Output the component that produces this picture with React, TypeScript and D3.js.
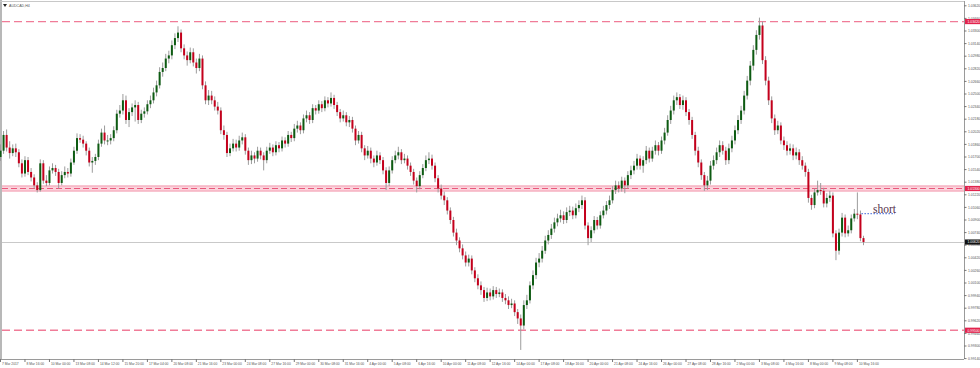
import * as d3 from "d3";

// AUDCAD H4, 7 Mar 2017 - 11 May 2017 (open of each bar = previous close)
const firstOpen = 1.017;

const closes = [
	1.0178, 1.0198, 1.0182, 1.0175, 1.0181, 1.0176, 1.0162, 1.0149, 1.0166, 1.0151,
	1.0144, 1.0134, 1.0128, 1.0162, 1.014, 1.0137, 1.0153, 1.0156, 1.0151, 1.0137,
	1.0147, 1.0151, 1.0149, 1.0163, 1.0178, 1.0194, 1.0192, 1.0187, 1.0178, 1.0163,
	1.0165, 1.017, 1.0187, 1.0201, 1.0191, 1.0191, 1.0194, 1.0204, 1.0225, 1.0229,
	1.0242, 1.0217, 1.0227, 1.0233, 1.0236, 1.0217, 1.0225, 1.0228, 1.0237, 1.0242,
	1.0252, 1.0261, 1.0278, 1.0283, 1.0295, 1.0299, 1.0312, 1.0321, 1.0328, 1.0308,
	1.0299, 1.0293, 1.0303, 1.029, 1.0283, 1.0295, 1.0261, 1.0242, 1.0248, 1.0242,
	1.0234, 1.0229, 1.0204, 1.0198, 1.0175, 1.0181, 1.0187, 1.0182, 1.0191, 1.0195,
	1.0178, 1.0166, 1.0172, 1.0168, 1.0178, 1.0172, 1.0166, 1.0178, 1.0182, 1.0176,
	1.0185, 1.0181, 1.0191, 1.0187, 1.0198, 1.0194, 1.0206, 1.021, 1.0204, 1.0219,
	1.0223, 1.0217, 1.0232, 1.0229, 1.0237, 1.0232, 1.0242, 1.0238, 1.0245, 1.0236,
	1.0227, 1.0219, 1.0223, 1.0214, 1.0217, 1.0206, 1.0191, 1.0198, 1.0181, 1.0172,
	1.0178, 1.0168, 1.0163, 1.0172, 1.0166, 1.0153, 1.0137, 1.0153, 1.0166, 1.0172,
	1.0176, 1.0166, 1.0168, 1.0159, 1.0151, 1.014, 1.0133, 1.0147, 1.0156, 1.0166,
	1.0168, 1.0159, 1.0143, 1.013, 1.0121, 1.0115, 1.0102, 1.009, 1.0074, 1.0064,
	1.0054, 1.0045, 1.0036, 1.0041, 1.0026, 1.0016, 1.0007, 1.0001, 0.9991, 0.9998,
	0.9993, 1.0001, 0.9996, 0.9998, 0.9991, 0.9988, 0.9982, 0.9984, 0.9973, 0.9965,
	0.9956, 0.9982, 0.9988, 1.0007, 1.002, 1.0036, 1.0041, 1.0051, 1.0064, 1.0071,
	1.0079, 1.0087, 1.0092, 1.0096, 1.009, 1.01, 1.0102, 1.0096, 1.0105, 1.0109,
	1.0115, 1.0083, 1.0067, 1.0077, 1.009, 1.0083, 1.0096, 1.0102, 1.0109, 1.0115,
	1.0128, 1.0134, 1.013, 1.014, 1.0134, 1.0147, 1.0153, 1.0159, 1.0168, 1.0159,
	1.0166, 1.0178, 1.0168, 1.0178, 1.0185, 1.0178, 1.0191, 1.0201, 1.0217, 1.0229,
	1.0242, 1.0246, 1.0236, 1.0242, 1.0227, 1.0217, 1.0198, 1.0178, 1.0163, 1.0147,
	1.0134, 1.014, 1.0159, 1.0166, 1.0176, 1.0185, 1.0178, 1.0166, 1.0181, 1.0191,
	1.0204, 1.0217, 1.0229, 1.0248, 1.0267, 1.0286, 1.0306, 1.0325, 1.0337, 1.0293,
	1.0267, 1.0242, 1.0219, 1.0204, 1.021, 1.0191, 1.0185, 1.0178, 1.0181, 1.0172,
	1.0176, 1.0166, 1.0159, 1.0151, 1.0118, 1.0109, 1.0125, 1.0128, 1.0127, 1.0111,
	1.0118, 1.0121, 1.0073, 1.0051, 1.0074, 1.0093, 1.0073, 1.0077, 1.0092, 1.0098,
	1.0097, 1.0067, 1.0062,
];

const highs = [
	1.0186, 1.0203, 1.0205, 1.019, 1.0186, 1.0187, 1.018, 1.0167, 1.0171, 1.017,
	1.0156, 1.0148, 1.0138, 1.0167, 1.0166, 1.0147, 1.0158, 1.0162, 1.016, 1.0155,
	1.0152, 1.0158, 1.0156, 1.0168, 1.0183, 1.02, 1.0199, 1.0197, 1.019, 1.0182,
	1.017, 1.0174, 1.0192, 1.0206, 1.021, 1.0198, 1.0199, 1.0209, 1.023, 1.0236,
	1.025, 1.0248, 1.0232, 1.0238, 1.0242, 1.024, 1.023, 1.0233, 1.0242, 1.0248,
	1.0258, 1.0267, 1.0284, 1.029, 1.0301, 1.0305, 1.0318, 1.0327, 1.0336, 1.0332,
	1.0313, 1.0304, 1.0309, 1.0308, 1.0295, 1.0301, 1.0299, 1.0266, 1.0255, 1.0254,
	1.0247, 1.024, 1.0233, 1.021, 1.0202, 1.0187, 1.0193, 1.0192, 1.0197, 1.0201,
	1.0199, 1.0182, 1.0178, 1.0176, 1.0183, 1.0182, 1.0176, 1.0183, 1.0188, 1.0186,
	1.019, 1.0189, 1.0196, 1.0195, 1.0203, 1.0202, 1.0212, 1.0216, 1.0214, 1.0224,
	1.0229, 1.0227, 1.0237, 1.0236, 1.0242, 1.0241, 1.0247, 1.0246, 1.0252, 1.0249,
	1.024, 1.0231, 1.0229, 1.0227, 1.0222, 1.0221, 1.021, 1.0203, 1.0202, 1.0185,
	1.0184, 1.0182, 1.0172, 1.0178, 1.0176, 1.017, 1.0157, 1.0158, 1.0171, 1.0178,
	1.0183, 1.018, 1.0174, 1.0172, 1.0163, 1.0155, 1.0144, 1.0152, 1.0161, 1.0172,
	1.0176, 1.0173, 1.0163, 1.0147, 1.0135, 1.0126, 1.0119, 1.0106, 1.0094, 1.0079,
	1.0068, 1.0059, 1.005, 1.0046, 1.0045, 1.003, 1.0021, 1.0012, 1.0005, 1.0004,
	1.0003, 1.0006, 1.0005, 1.0003, 1.0002, 0.9996, 0.9993, 0.999, 0.9988, 0.9977,
	0.997, 0.9988, 0.9995, 1.0012, 1.0026, 1.0042, 1.0048, 1.0057, 1.007, 1.0077,
	1.0085, 1.0093, 1.0098, 1.0103, 1.0101, 1.0106, 1.0108, 1.0107, 1.0111, 1.0115,
	1.0121, 1.0119, 1.0087, 1.0082, 1.0095, 1.0094, 1.0101, 1.0108, 1.0114, 1.0121,
	1.0133, 1.014, 1.0139, 1.0145, 1.0144, 1.0152, 1.0159, 1.0165, 1.0174, 1.0172,
	1.0171, 1.0184, 1.0182, 1.0183, 1.0191, 1.0189, 1.0196, 1.0207, 1.0223, 1.0235,
	1.0248, 1.0252, 1.025, 1.0248, 1.0246, 1.0231, 1.0221, 1.0202, 1.0183, 1.0167,
	1.0151, 1.0146, 1.0165, 1.0172, 1.0182, 1.0191, 1.019, 1.0183, 1.0187, 1.0197,
	1.021, 1.0223, 1.0235, 1.0254, 1.0273, 1.0292, 1.0312, 1.0331, 1.0347, 1.0342,
	1.0298, 1.0272, 1.0247, 1.0224, 1.0216, 1.0214, 1.0196, 1.019, 1.0187, 1.0186,
	1.0182, 1.018, 1.0171, 1.0163, 1.0155, 1.0122, 1.013, 1.014, 1.0137, 1.0131,
	1.0124, 1.0127, 1.0125, 1.0077, 1.0079, 1.0099, 1.0097, 1.0083, 1.0097, 1.0104,
	1.0125, 1.0102, 1.007,
];

const lows = [
	1.0165, 1.0174, 1.0177, 1.0168, 1.0171, 1.017, 1.0157, 1.0144, 1.0145, 1.0147,
	1.0139, 1.013, 1.0125, 1.0126, 1.0136, 1.0133, 1.0134, 1.0149, 1.0146, 1.013,
	1.0134, 1.0143, 1.0144, 1.0145, 1.016, 1.0174, 1.0188, 1.0182, 1.0172, 1.0158,
	1.015, 1.016, 1.0166, 1.0183, 1.0186, 1.0185, 1.0186, 1.019, 1.02, 1.022,
	1.0224, 1.0212, 1.0208, 1.0222, 1.0215, 1.0212, 1.0213, 1.022, 1.0224, 1.0232,
	1.0238, 1.0247, 1.0257, 1.0272, 1.0279, 1.0289, 1.0294, 1.0307, 1.0316, 1.0303,
	1.0294, 1.0286, 1.0289, 1.0285, 1.0276, 1.0279, 1.0256, 1.0237, 1.0236, 1.0237,
	1.0229, 1.0224, 1.0199, 1.0192, 1.017, 1.0171, 1.0177, 1.0177, 1.0178, 1.0186,
	1.0173, 1.016, 1.0161, 1.0162, 1.0164, 1.0167, 1.0153, 1.0162, 1.0174, 1.0171,
	1.0172, 1.0176, 1.0177, 1.0182, 1.0183, 1.0189, 1.019, 1.0201, 1.0199, 1.02,
	1.0214, 1.0212, 1.0213, 1.0224, 1.0225, 1.0227, 1.0228, 1.0233, 1.0234, 1.0231,
	1.0222, 1.0214, 1.0215, 1.0209, 1.0208, 1.0201, 1.0185, 1.0187, 1.0176, 1.0166,
	1.0168, 1.0162, 1.0157, 1.0159, 1.0161, 1.0148, 1.0128, 1.0133, 1.0149, 1.0162,
	1.0167, 1.0161, 1.0162, 1.0154, 1.0146, 1.0135, 1.0125, 1.0129, 1.0143, 1.0152,
	1.0161, 1.0154, 1.0138, 1.0125, 1.0116, 1.0109, 1.0097, 1.0085, 1.0069, 1.0058,
	1.0049, 1.004, 1.0031, 1.0031, 1.0021, 1.0011, 1.0002, 0.9995, 0.9986, 0.9987,
	0.9988, 0.9989, 0.9991, 0.9992, 0.9986, 0.9983, 0.9977, 0.9978, 0.9968, 0.9958,
	0.9925, 0.9951, 0.9977, 0.9984, 1.0002, 1.0015, 1.003, 1.0036, 1.0047, 1.0059,
	1.0066, 1.0074, 1.0082, 1.0087, 1.0085, 1.0086, 1.0095, 1.0091, 1.0092, 1.01,
	1.0104, 1.0078, 1.0058, 1.0062, 1.0073, 1.0078, 1.0079, 1.0092, 1.0097, 1.0104,
	1.0111, 1.0123, 1.0125, 1.0126, 1.0124, 1.013, 1.0142, 1.0148, 1.0154, 1.0154,
	1.015, 1.0161, 1.0163, 1.0164, 1.0173, 1.0172, 1.0174, 1.0186, 1.0197, 1.0212,
	1.0224, 1.0236, 1.0231, 1.023, 1.0222, 1.0211, 1.0193, 1.0172, 1.0157, 1.0141,
	1.0127, 1.0128, 1.0135, 1.0154, 1.0161, 1.017, 1.0173, 1.016, 1.0161, 1.0176,
	1.0186, 1.0199, 1.0212, 1.0224, 1.0243, 1.0261, 1.028, 1.03, 1.0319, 1.0288,
	1.0261, 1.0236, 1.0213, 1.0198, 1.0199, 1.0186, 1.0179, 1.0172, 1.0173, 1.0166,
	1.0167, 1.016, 1.0154, 1.0145, 1.0112, 1.0103, 1.0105, 1.0121, 1.0122, 1.0106,
	1.0106, 1.0113, 1.0068, 1.0039, 1.0046, 1.0069, 1.0068, 1.0069, 1.0073, 1.0088,
	1.0091, 1.0063, 1.0058,
];

// one time label every 8 bars
const timeLabels = [
	"7 Mar 2017", "8 Mar 16:00", "10 Mar 00:00", "13 Mar 08:00", "14 Mar 12:00",
	"15 Mar 20:00", "17 Mar 04:00", "20 Mar 08:00", "21 Mar 16:00", "23 Mar 00:00",
	"24 Mar 08:00", "27 Mar 16:00", "29 Mar 00:00", "30 Mar 08:00", "31 Mar 16:00",
	"4 Apr 00:00", "5 Apr 08:00", "6 Apr 16:00", "10 Apr 00:00", "11 Apr 08:00",
	"12 Apr 16:00", "14 Apr 00:00", "17 Apr 08:00", "18 Apr 16:00", "20 Apr 00:00",
	"21 Apr 08:00", "24 Apr 16:00", "26 Apr 00:00", "27 Apr 08:00", "28 Apr 16:00",
	"2 May 00:00", "3 May 08:00", "4 May 16:00", "8 May 00:00", "9 May 08:00",
	"10 May 16:00",
];

const priceTicks = [
	1.0362, 1.0346, 1.033, 1.0314, 1.0298, 1.0282, 1.0266, 1.025, 1.0234, 1.0218,
	1.0202, 1.0186, 1.017, 1.0154, 1.0138, 1.0122, 1.0106, 1.009, 1.0074, 1.0058,
	1.0042, 1.0026, 1.001, 0.9994, 0.9978, 0.9962, 0.9946, 0.993, 0.9914,
];

// horizontal levels drawn on the chart
const levels = [1.0342, 1.013, 0.995];
const mainLevel = 1.013;
const shortLevel = 1.0098;

const W = 980;
const H = 368;
const plotRight = 964;
const plotBottom = 359;

const bullColor = "#0d5b12";
const bearColor = "#c4001c";
const wickColor = "#9c9c9c";
const levelColor = "#f07c98";
const axisFont = "'Liberation Sans', Arial, sans-serif";

export default function App() {
	const n = closes.length;
	const x = d3.scaleLinear().domain([0, n - 1]).range([0.5, 863.5]);
	const y = d3.scaleLinear().domain([0.9914, 1.0362]).range([358.6, 5.8]);
	const opens = closes.map((_, i) => (i === 0 ? firstOpen : closes[i - 1]));
	const last = closes[n - 1];

	return (
		<svg
			width={W}
			height={H}
			style={{ position: "absolute", left: 0, top: 0, background: "#fff" }}
		>
			<rect x={0} y={0} width={W} height={H} fill="#fff" />

			{/* frame */}
			<rect x={0} y={0} width={2} height={plotBottom} fill="#b8b8b8" />
			<line x1={0} x2={plotRight} y1={1.5} y2={1.5} stroke="#c8c8c8" />
			<line x1={plotRight + 0.5} x2={plotRight + 0.5} y1={1} y2={plotBottom} stroke="#9a9a9a" />
			<line x1={0} x2={plotRight} y1={plotBottom + 0.5} y2={plotBottom + 0.5} stroke="#9a9a9a" />

			{/* title */}
			<path d="M3,4 L7,4 L5,7 Z" fill="#222" />
			<text x={9} y={7} fontSize={3.6} fill="#555" fontFamily={axisFont}>
				AUDCAD,H4
			</text>

			{/* current price line */}
			<line
				x1={2}
				x2={plotRight}
				y1={Math.round(y(last)) + 0.5}
				y2={Math.round(y(last)) + 0.5}
				stroke="#c9c9c9"
			/>

			{/* levels */}
			{levels.map((lv) =>
				lv === mainLevel ? (
					<g key={lv}>
						<rect x={2} width={plotRight - 2} y={y(lv) - 3} height={6} fill="#fbd3dc" />
						<line x1={2} x2={plotRight} y1={y(lv) - 2.5} y2={y(lv) - 2.5} stroke="#f3a0b4" />
						<line x1={2} x2={plotRight} y1={y(lv) + 2.5} y2={y(lv) + 2.5} stroke="#f3a0b4" />
						<line
							x1={2}
							x2={plotRight}
							y1={y(lv)}
							y2={y(lv)}
							stroke="#e9587c"
							strokeWidth={1.2}
							strokeDasharray="6,3"
						/>
					</g>
				) : (
					<line
						key={lv}
						x1={2}
						x2={plotRight}
						y1={y(lv)}
						y2={y(lv)}
						stroke={levelColor}
						strokeWidth={1.3}
						strokeDasharray="8,4"
					/>
				)
			)}

			{/* candles */}
			{closes.map((c, i) => {
				const o = opens[i];
				const cx = x(i);
				const top = y(Math.max(o, c));
				const bot = y(Math.min(o, c));
				return (
					<g key={i}>
						<line
							x1={cx}
							x2={cx}
							y1={y(highs[i])}
							y2={y(lows[i])}
							stroke={wickColor}
							strokeWidth={1}
						/>
						<rect
							x={cx - 1}
							y={top}
							width={2}
							height={Math.max(1, bot - top)}
							fill={c >= o ? bullColor : bearColor}
						/>
					</g>
				);
			})}

			{/* short annotation */}
			<line
				x1={x(n - 2) + 1}
				x2={895}
				y1={y(shortLevel)}
				y2={y(shortLevel)}
				stroke="#3a62d8"
				strokeWidth={1}
				strokeDasharray="1.5,1.5"
			/>
			<text
				x={873}
				y={y(shortLevel) - 1}
				fontSize={11.5}
				fill="#55304a"
				fontFamily="'Liberation Serif', 'Times New Roman', serif"
			>
				short
			</text>

			{/* price axis */}
			{priceTicks.map((p) => (
				<g key={p}>
					<line x1={plotRight} x2={plotRight + 2.5} y1={y(p)} y2={y(p)} stroke="#777" />
					<text
						x={plotRight + 4}
						y={y(p) + 1.2}
						fontSize={3.4}
						fill="#555"
						fontFamily={axisFont}
					>
						{p.toFixed(5)}
					</text>
				</g>
			))}
			{levels.map((lv) => (
				<g key={`l${lv}`}>
					<rect x={plotRight + 1} y={y(lv) - 2.6} width={15} height={5.2} fill="#e2234d" />
					<text
						x={plotRight + 3.5}
						y={y(lv) + 1.3}
						fontSize={3.4}
						fill="#fff"
						fontFamily={axisFont}
					>
						{lv.toFixed(5)}
					</text>
				</g>
			))}
			<rect x={plotRight + 1} y={y(last) - 2.6} width={15} height={5.2} fill="#111" />
			<text
				x={plotRight + 3.5}
				y={y(last) + 1.3}
				fontSize={3.4}
				fill="#fff"
				fontFamily={axisFont}
			>
				{last.toFixed(5)}
			</text>

			{/* time axis */}
			{timeLabels.map((t, k) => (
				<g key={t}>
					<line
						x1={x(k * 8)}
						x2={x(k * 8)}
						y1={plotBottom}
						y2={plotBottom + 3}
						stroke="#777"
					/>
					<text
						x={x(k * 8) + 1.5}
						y={plotBottom + 5.5}
						fontSize={3.3}
						fill="#555"
						fontFamily={axisFont}
					>
						{t}
					</text>
				</g>
			))}
		</svg>
	);
}
